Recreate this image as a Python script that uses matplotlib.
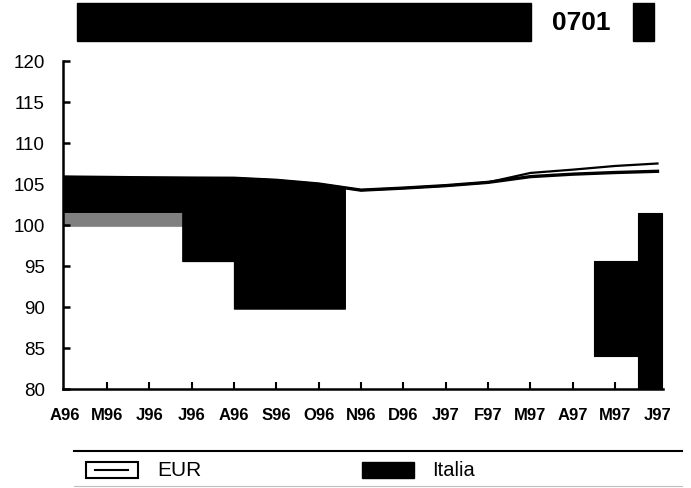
import numpy as np
import matplotlib
matplotlib.use('Agg')
import matplotlib.pyplot as plt
from matplotlib.patches import Rectangle
from matplotlib.lines import Line2D

plt.rcParams['font.family'] = ['Liberation Sans', 'DejaVu Sans']

# month labels on the x axis (one position per month)
months = ['A96', 'M96', 'J96', 'J96', 'A96', 'S96', 'O96', 'N96',
          'D96', 'J97', 'F97', 'M97', 'A97', 'M97', 'J97']
# index series
italia = [105.85, 105.8, 105.75, 105.72, 105.7, 105.45, 105.0, 104.25,
          104.5, 104.8, 105.2, 105.9, 106.2, 106.4, 106.55]
eur = [105.85, 105.8, 105.75, 105.72, 105.7, 105.45, 105.0, 104.25,
       104.5, 104.8, 105.2, 106.35, 106.75, 107.2, 107.5]

# dark blocks under the line (start, end in month positions, low value)
left_start = [-0.035, 2.78, 4.0]
left_end = [2.78, 4.0, 6.62]
left_low = [101.6, 95.6, 89.8]
band_low = 99.9   # speckled grey band below the first block
# blocks at the right edge (start, end, low, high)
right_start = [12.5, 13.55]
right_end = [13.55, 14.1]
right_low = [84.0, 80.0]
right_high = [95.6, 101.45]

yticks = [80, 85, 90, 95, 100, 105, 110, 115, 120]

fig = plt.figure(figsize=(6.91, 4.89), dpi=100)
ax = fig.add_axes([63 / 691, 1 - 390 / 489, 600 / 691, 328 / 489])

pos = np.arange(len(months))

# speckled band
ax.fill_between([left_start[0], left_end[0]], band_low, left_low[0],
                facecolor='0.5', edgecolor='0.5', lw=0.5, zorder=1)
for x0, x1, lo in zip(left_start, left_end, left_low):
    xs = np.linspace(x0, x1, 30)
    ax.fill_between(xs, lo, np.interp(xs, pos, italia), facecolor='black',
                    edgecolor='black', lw=0.8, zorder=2)
for x0, x1, lo, hi in zip(right_start, right_end, right_low, right_high):
    ax.fill_between([x0, x1], lo, hi, facecolor='black', edgecolor='black',
                    lw=0.8, zorder=2)

ax.plot(pos, eur, color='black', lw=1.6, zorder=3)
ax.plot(pos, italia, color='black', lw=2.4, zorder=3)

ax.set_xlim(-0.035, 14.13)
ax.set_ylim(80, 120)
ax.set_yticks(yticks)
ax.set_yticklabels([str(v) for v in yticks], fontsize=13.5)
ax.set_xticks(pos)
ax.set_xticklabels(months, fontsize=12, fontweight='bold')
ax.tick_params(axis='y', direction='in', length=5, width=1.8, pad=13)
ax.tick_params(axis='x', direction='in', length=5, width=1.5, pad=13)
ticks = ax.xaxis.get_major_ticks()
ticks[0].tick1line.set_visible(False)
ticks[-1].tick1line.set_visible(False)
for side in ('top', 'right'):
    ax.spines[side].set_visible(False)
for side in ('left', 'bottom'):
    ax.spines[side].set_linewidth(1.8)

# header bar
W, H = 691.0, 489.0


def fx(px):
    return px / W


def fy(py):
    return 1 - py / H


fig.patches.append(Rectangle((fx(77), fy(42)), fx(531) - fx(77), (42 - 4) / H,
                             transform=fig.transFigure, color='black'))
fig.patches.append(Rectangle((fx(633), fy(42)), fx(654) - fx(633), (42 - 4) / H,
                             transform=fig.transFigure, color='black'))
fig.text(fx(581), fy(23), '0701', fontsize=19, fontweight='bold',
         ha='center', va='center')

# legend area
fig.lines.append(Line2D([fx(74), fx(682)], [fy(452), fy(452)],
                        transform=fig.transFigure, color='black', lw=1.5))
fig.lines.append(Line2D([fx(74), fx(682)], [fy(487), fy(487)],
                        transform=fig.transFigure, color='0.75', lw=0.8))
fig.patches.append(Rectangle((fx(86), fy(479)), fx(138) - fx(86), 16 / H,
                             transform=fig.transFigure, facecolor='white',
                             edgecolor='black', lw=1.5))
fig.lines.append(Line2D([fx(95), fx(128)], [fy(471), fy(471)],
                        transform=fig.transFigure, color='black', lw=1.5))
fig.text(fx(157), fy(471), 'EUR', fontsize=15, ha='left', va='center')
fig.patches.append(Rectangle((fx(362), fy(479)), fx(414) - fx(362), 16 / H,
                             transform=fig.transFigure, color='black'))
fig.text(fx(432), fy(471), 'Italia', fontsize=14.5, ha='left', va='center')

fig.savefig('out.png', dpi=100)
